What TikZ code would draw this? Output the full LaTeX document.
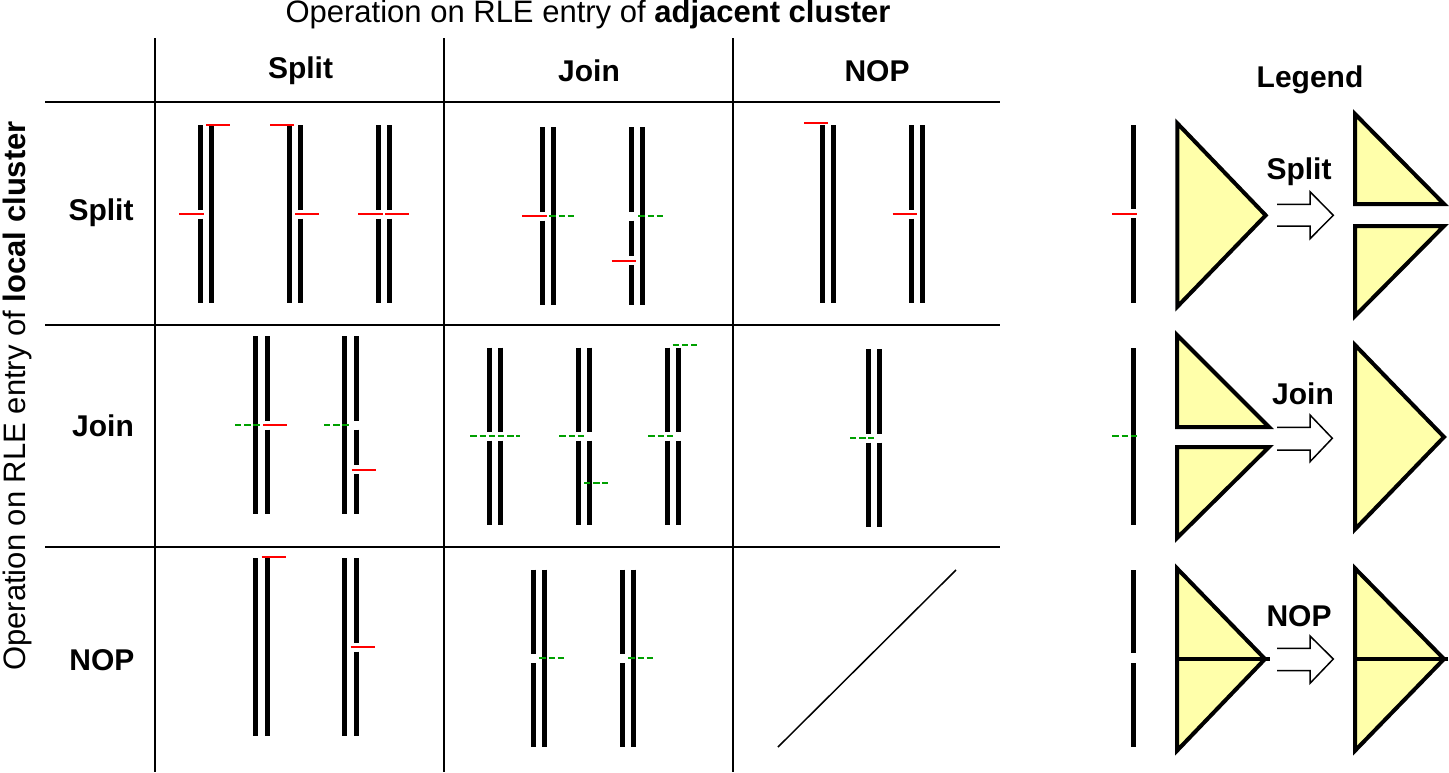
\documentclass[tikz,border=0pt]{standalone}
\usepackage{fontspec}
\setmainfont{Liberation Sans}
\definecolor{mkred}{RGB}{255,0,0}
\definecolor{mkgreen}{RGB}{0,160,0}
\definecolor{triyellow}{RGB}{255,255,170}
\newcommand\seg[3]{\draw[barline] (#1,#2) -- (#1,#3);}
\newcommand\rmk[3]{\draw[redmk] (#1,#3) -- (#2,#3);}
\newcommand\gmk[3]{\draw[greenmk] (#1,#3) -- (#2,#3);}
\tikzset{
  barline/.style={line width=5pt, line cap=butt, black},
  redmk/.style={line width=2.3pt, mkred},
  greenmk/.style={line width=2.3pt, mkgreen, dash pattern=on 6.4pt off 2.8pt},
  gridline/.style={line width=2pt, black},
  tri/.style={line width=4pt, fill=triyellow, line join=miter},
  blockarrow/.style={line width=1.5pt, fill=white, line join=miter},
  hdr/.style={font=\fontsize{30}{36}\selectfont\bfseries, inner sep=0pt},
  ttl/.style={font=\fontsize{31}{37}\selectfont, inner sep=0pt}
}
\begin{document}
\begin{tikzpicture}[x=1pt,y=-1pt]
\useasboundingbox (0,0) rectangle (1449,772);
% grid
\draw[gridline] (45,102) -- (1000,102);
\draw[gridline] (45,325) -- (1000,325);
\draw[gridline] (45,547) -- (1000,547);
\draw[gridline] (155,38) -- (155,772);
\draw[gridline] (444,38) -- (444,772);
\draw[gridline] (733,38) -- (733,772);
% titles
\node[ttl] (title) at (588,14) {Operation on RLE entry of \textbf{adjacent cluster}};
\node[ttl, rotate=90] (lefttitle) at (17,396) {Operation on RLE entry of \textbf{local cluster}};
\node[hdr] (cSplit) at (300.5,71) {Split};
\node[hdr] (cJoin) at (589,71) {Join};
\node[hdr] (cNOP) at (877,71) {NOP};
\node[hdr] (rSplit) at (101,213) {Split};
\node[hdr] (rJoin) at (103,426) {Join};
\node[hdr] (rNOP) at (102,660) {NOP};
\node[hdr] (legend) at (1310,80) {Legend};
% ---- cell 1,1
\seg{200.5}{125}{209.5}\seg{200.5}{218.5}{302.5}\seg{211.5}{125}{302.5}
\rmk{179}{203.7}{214}\rmk{206}{230.3}{125}
\seg{289}{125}{302.5}\seg{300.3}{125}{209.5}\seg{300.3}{218.5}{302.5}
\rmk{270.3}{294.3}{125}\rmk{295}{319}{214}
\seg{378}{125}{209.5}\seg{378}{218.5}{302.5}\seg{389.3}{125}{209.5}\seg{389.3}{218.5}{302.5}
\rmk{358.3}{382.7}{214}\rmk{385}{409.3}{214}
% ---- cell 1,2
\seg{542.3}{127.3}{212}\seg{542.3}{220.7}{305.3}\seg{553.7}{127.3}{305.3}
\rmk{522.3}{546.7}{216.3}\gmk{549.3}{573.7}{216.3}
\seg{631.3}{127.3}{212}\seg{631.3}{220.7}{256.3}\seg{631.3}{265.3}{305.3}\seg{642.3}{127.3}{305.3}
\gmk{638.3}{662.7}{216.3}\rmk{611.7}{636}{261}
% ---- cell 1,3
\seg{822.7}{125.3}{302.7}\seg{833.7}{125.3}{302.7}
\rmk{804}{828}{122.7}
\seg{911.7}{125.3}{209.5}\seg{911.7}{218.5}{302.7}\seg{922.7}{125.3}{302.7}
\rmk{892.7}{916.7}{214}
% ---- cell 2,1
\seg{255.7}{336.3}{514}\seg{267}{336.3}{421}\seg{267}{429.7}{514}
\gmk{235}{261}{425}\rmk{263}{287}{425}
\seg{344.7}{336.3}{514}\seg{356}{336.3}{421}\seg{356}{429.7}{465.3}\seg{356}{474}{514}
\gmk{324}{350}{425}\rmk{351.7}{375.7}{469.7}
% ---- cell 2,2
\seg{489}{347.7}{431.7}\seg{489}{440.7}{525.3}\seg{500.3}{347.7}{431.7}\seg{500.3}{440.7}{525.3}
\gmk{470.3}{519.7}{436.3}
\seg{578}{347.7}{431.7}\seg{578}{440.7}{525.3}\seg{589}{347.7}{431.7}\seg{589}{440.7}{525.3}
\gmk{559.3}{583.7}{436.3}\gmk{584}{608.3}{482.7}
\seg{667}{347.7}{431.7}\seg{667}{440.7}{525.3}\seg{678}{347.7}{431.7}\seg{678}{440.7}{525.3}
\gmk{648.3}{672.7}{436.3}\gmk{672.7}{697}{345}
% ---- cell 2,3
\seg{868.3}{349.3}{434}\seg{868.3}{442.7}{527.3}\seg{879.7}{349.3}{434}\seg{879.7}{442.7}{527.3}
\gmk{850}{874.3}{438.3}
% ---- cell 3,1
\seg{255.7}{558.3}{736}\seg{267}{558.3}{736}
\rmk{261.7}{285.7}{557.3}
\seg{344.7}{558.3}{736}\seg{356}{558.3}{643}\seg{356}{651.5}{736}
\rmk{350.7}{374.7}{647}
% ---- cell 3,2
\seg{533.7}{569.7}{654.3}\seg{533.7}{663}{747.3}\seg{544.7}{569.7}{747.3}
\gmk{539.3}{563.7}{658.3}
\seg{622.7}{569.7}{654.3}\seg{622.7}{663}{747.3}\seg{633.7}{569.7}{747.3}
\gmk{628.3}{652.7}{658.3}
% ---- cell 3,3
\draw[line width=1.5pt] (778,747) -- (956,570);
% ---- legend: split
\seg{1133.3}{125.3}{209.3}\seg{1133.3}{218.3}{302.7}
\rmk{1112.3}{1136.7}{214}
\draw[tri] (1177.3,123.3) -- (1265.7,215.3) -- (1177.3,306.7) -- cycle;
\draw[blockarrow] (1277,204.3) -- (1310,204.3) -- (1310,191.7) -- (1333.3,215.3) -- (1310,238.7) -- (1310,226) -- (1277,226);
\node[hdr] (lSplit) at (1299,172) {Split};
\draw[tri] (1355,114) -- (1444,204) -- (1355,204) -- cycle;
\draw[tri] (1355,226) -- (1444,226) -- (1355,316) -- cycle;
% ---- legend: join
\seg{1133}{348}{525}
\gmk{1112.3}{1139.3}{436.3}
\draw[tri] (1177,335) -- (1269,427) -- (1177,427) -- cycle;
\draw[tri] (1177,447) -- (1269,447) -- (1177,538) -- cycle;
\draw[blockarrow] (1277,427.3) -- (1310,427.3) -- (1310,415) -- (1332.3,438.3) -- (1310,461.7) -- (1310,450) -- (1277,450);
\node[hdr] (lJoin) at (1303,394) {Join};
\draw[tri] (1355,345) -- (1444,437) -- (1355,529.3) -- cycle;
% ---- legend: nop
\seg{1133}{570}{653.3}\seg{1133}{663.3}{746.7}
\draw[tri] (1177,568.3) -- (1265,659) -- (1177,750.7) -- cycle;
\draw[line width=4pt] (1177,659) -- (1270,659);
\draw[blockarrow] (1277,648.3) -- (1310,648.3) -- (1310,636) -- (1333.3,659) -- (1310,683.3) -- (1310,670.7) -- (1277,670.7);
\node[hdr] (lNOP) at (1299,616) {NOP};
\draw[tri] (1355,568.3) -- (1444,659) -- (1355,750.7) -- cycle;
\draw[line width=4pt] (1355,659) -- (1448,659);
\end{tikzpicture}
\end{document}
